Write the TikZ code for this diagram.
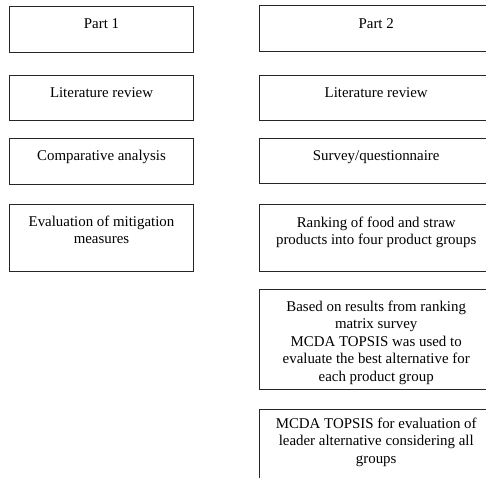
\documentclass[tikz,border=0pt]{standalone}
\usepackage{fontspec}
\setmainfont{Liberation Serif}
\begin{document}
\begin{tikzpicture}[x=1pt,y=-1pt,
  stepframe/.style={draw=black!85, line width=0.9pt, inner sep=0pt, outer sep=0pt, anchor=north west},
  steptext/.style={anchor=north, align=center, inner sep=0pt,
    font=\fontsize{14.9}{17.5}\selectfont,
    execute at begin node=\rule{0pt}{13pt}},
  leftcol/.style={minimum width=184.4pt},
  rightcol/.style={minimum width=233pt}]
\useasboundingbox (0,0) rectangle (486,477);
\clip (0,0) rectangle (486,477);

% first column
\node[stepframe, leftcol, minimum height=45.6pt] (p1) at (9.3,6.7) {};
\node[stepframe, leftcol, minimum height=45.7pt] (l1) at (9.3,75) {};
\node[stepframe, leftcol, minimum height=45.7pt] (c1) at (9.3,138.3) {};
\node[stepframe, leftcol, minimum height=67.4pt] (e1) at (9.3,204.3) {};

\node[steptext] (p1t) at ([yshift=-8.8pt]p1.north) {Part 1};
\node[steptext] (l1t) at ([yshift=-8.8pt]l1.north) {Literature review};
\node[steptext] (c1t) at ([yshift=-9pt]c1.north) {Comparative analysis};
\node[steptext] (e1t) at ([yshift=-11.5pt]e1.north) {Evaluation of mitigation\\measures};

% second column
\node[stepframe, rightcol, minimum height=46pt] (p2) at (259.7,5) {};
\node[stepframe, rightcol, minimum height=45.4pt] (l2) at (259.7,75.3) {};
\node[stepframe, rightcol, minimum height=45pt] (s2) at (259.7,138.3) {};
\node[stepframe, rightcol, minimum height=67.4pt] (r2) at (259.7,204.3) {};
\node[stepframe, rightcol, minimum height=99.7pt] (b2) at (259.7,289.8) {};
\node[stepframe, rightcol, minimum height=100pt] (m2) at (259.7,409) {};

\node[steptext] (p2t) at ([yshift=-10pt]p2.north) {Part 2};
\node[steptext] (l2t) at ([yshift=-9pt]l2.north) {Literature review};
\node[steptext] (s2t) at ([yshift=-9pt]s2.north) {Survey/questionnaire};
\node[steptext] (r2t) at ([yshift=-12.5pt]r2.north) {Ranking of food and straw\\products into four product groups};
\node[steptext] (b2t) at ([yshift=-10.5pt]b2.north) {Based on results from ranking\\matrix survey\\MCDA TOPSIS was used to\\evaluate the best alternative for\\each product group};
\node[steptext] (m2t) at ([yshift=-8.4pt]m2.north) {MCDA TOPSIS for evaluation of\\leader alternative considering all\\groups};
\end{tikzpicture}
\end{document}
